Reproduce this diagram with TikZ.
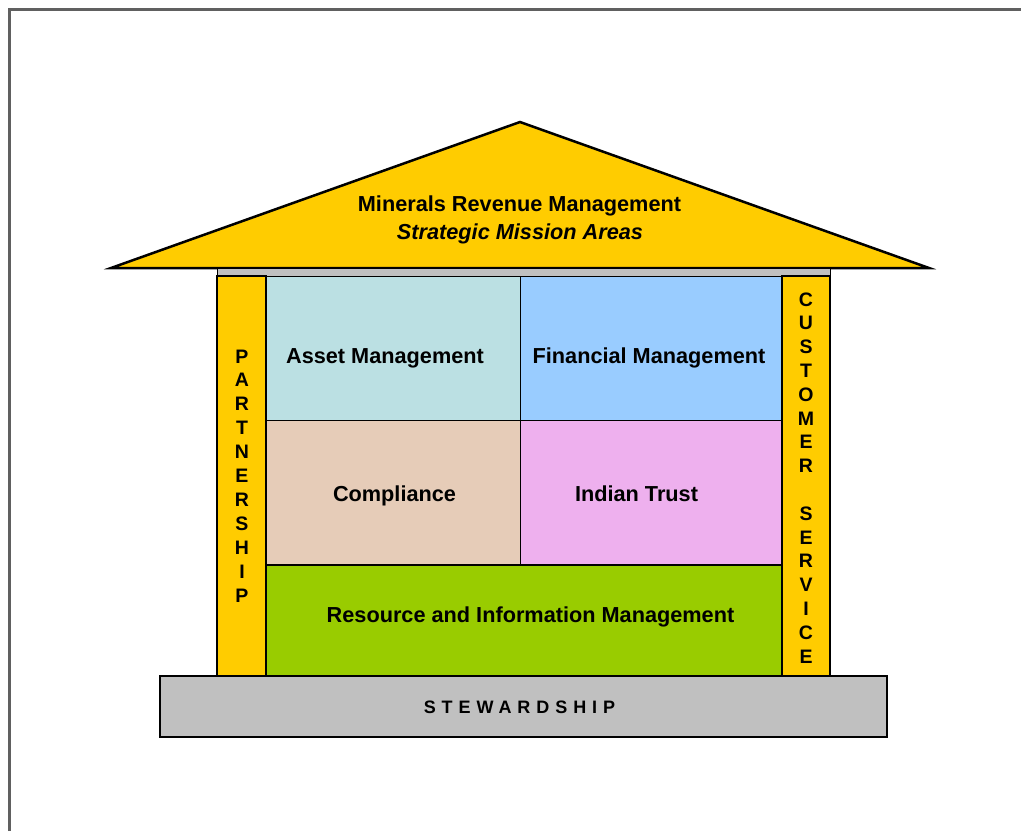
\documentclass[tikz,border=0pt]{standalone}
\usepackage{fontspec}
\setmainfont{Liberation Sans}
\usepackage{xcolor}
\usepackage{tikz}

\definecolor{roofyellow}{RGB}{255,204,0}
\definecolor{stonegray}{RGB}{192,192,192}
\definecolor{framegray}{RGB}{96,96,96}
\definecolor{assetteal}{RGB}{187,224,227}
\definecolor{finblue}{RGB}{153,204,255}
\definecolor{complytan}{RGB}{230,204,184}
\definecolor{trustpink}{RGB}{238,176,238}
\definecolor{resgreen}{RGB}{153,204,0}

\tikzset{
  wall/.style={draw=black, line width=2},
  label/.style={anchor=base, inner sep=0.75pt, font=\fontsize{21.7}{26}\selectfont\bfseries},
  letter/.style={anchor=base, inner sep=0.75pt, font=\fontsize{19.5}{23}\selectfont\bfseries}
}

\begin{document}
\begin{tikzpicture}[x=1pt,y=1pt,yscale=-1,xscale=1]
\useasboundingbox (0,0) rectangle (1021,831);
%Frame
\draw [color=framegray, line width=3] (9,831) -- (9,9.5) -- (1021,9.5) ;
%Shape: Triangle
\draw [wall, line width=2.5, fill=roofyellow, line join=miter] (520,122) -- (929,268) -- (111,268) -- cycle ;
%Shape: Rectangle
\draw [wall, line width=1, fill=stonegray] (217,268) rectangle (830,276) ;
%Shape: Rectangle
\draw [wall, fill=roofyellow] (217,276) rectangle (266,676) ;
%Shape: Rectangle
\draw [wall, fill=roofyellow] (782,276) rectangle (830,676) ;
%Shape: Rectangle
\draw [wall, line width=1, fill=assetteal] (266,276) rectangle (520,420) ;
%Shape: Rectangle
\draw [wall, line width=1, fill=finblue] (520,276) rectangle (782,420) ;
%Shape: Rectangle
\draw [wall, line width=1, fill=complytan] (266,420) rectangle (520,565) ;
%Shape: Rectangle
\draw [wall, line width=1, fill=trustpink] (520,420) rectangle (782,565) ;
%Shape: Rectangle
\draw [wall, fill=resgreen] (266,565) rectangle (782,676) ;
%Shape: Rectangle
\draw [wall, fill=stonegray] (160,676) rectangle (887,737) ;
%Redraw pillar edges
\draw [wall] (266,276) -- (266,676) (782,276) -- (782,676) ;

% Text Node
\node [label] (mission) at (519.5,211.5) {Minerals Revenue Management};
% Text Node
\node [label] (areas) at (520,239.5) {\itshape Strategic Mission Areas};
% Text Node
\node [label] (asset) at (385,363.5) {Asset Management};
% Text Node
\node [label] (finance) at (649,363.5) {Financial Management};
% Text Node
\node [label] (comply) at (394.5,501.5) {Compliance};
% Text Node
\node [label] (trust) at (636.5,501.5) {Indian Trust};
% Text Node
\node [label] (resource) at (530.5,622.5) {Resource and Information Management};
% Text Node
\node [anchor=base, inner sep=0.75pt, font=\fontsize{18}{21}\selectfont\bfseries\addfontfeature{LetterSpace=33}] (steward) at (519.5,713.5) {STEWARDSHIP};

% Pillar letters
\foreach \l [count=\i from 0] in {P,A,R,T,N,E,R,S,H,I,P}
  \node [letter] (part-\i) at (242,{363+23.9*\i}) {\l};
\foreach \l [count=\i from 0] in {C,U,S,T,O,M,E,R,{},S,E,R,V,I,C,E}
  \node [letter] (cust-\i) at (806,{306+23.8*\i}) {\l};
\end{tikzpicture}
\end{document}
